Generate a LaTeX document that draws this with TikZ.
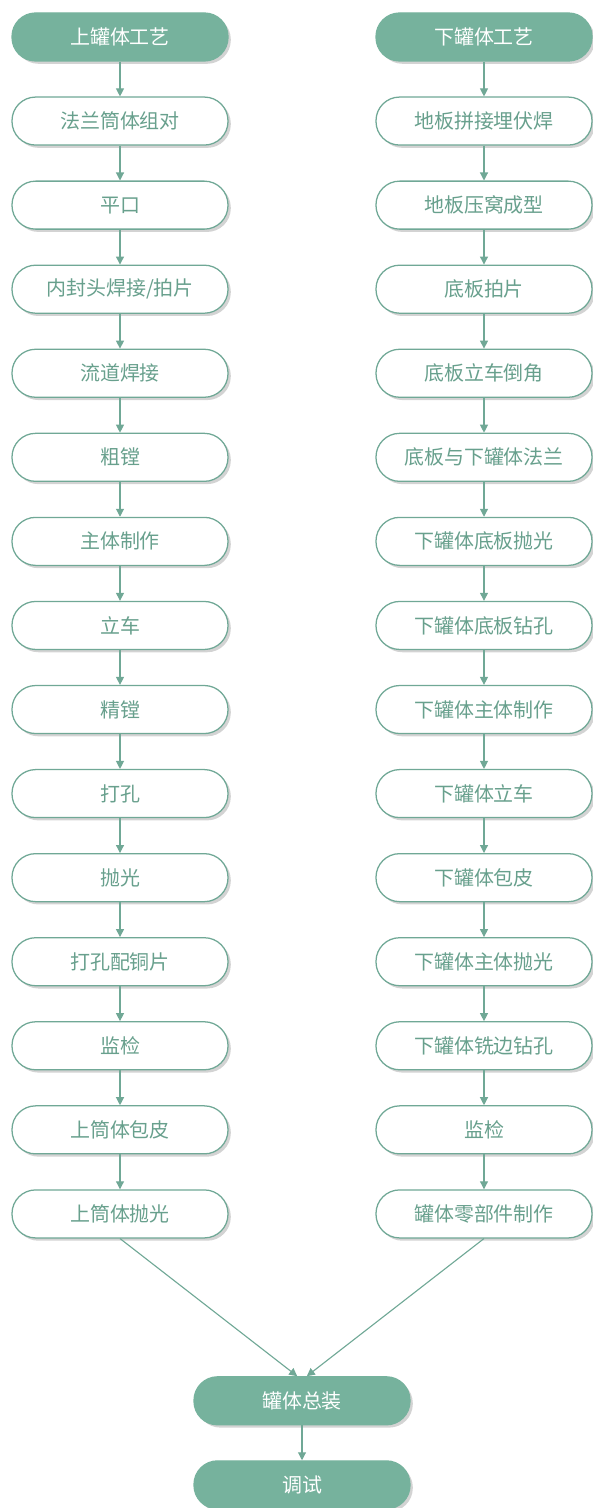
\documentclass[tikz,border=0pt]{standalone}
\usepackage{fontspec}
\setmainfont{Noto Sans CJK SC}
\usetikzlibrary{shapes,arrows.meta,positioning,calc,shadows}
\definecolor{tealfill}{RGB}{118,178,157}
\definecolor{tealtext}{RGB}{104,160,141}
\definecolor{tealline}{RGB}{112,168,150}
\tikzset{
  procbox/.style={rectangle,rounded corners=0.59cm,minimum width=5.4cm,minimum height=1.2cm,
    draw=tealline,line width=0.9pt,fill=white,text=tealtext,
    font=\fontsize{14.2}{16}\selectfont,
    drop shadow={shadow xshift=0.07cm,shadow yshift=-0.07cm,opacity=0.35}},
  headbox/.style={procbox,draw=tealfill,fill=tealfill,text=white},
  flow/.style={draw=tealline,line width=0.8pt,-{Triangle[width=0.2cm,length=0.2cm]}}
}
\begin{document}
\begin{tikzpicture}[node distance=0.87cm]
      \useasboundingbox (0,0) rectangle (14.8,-37.7);
      % upper tank column
      \node[headbox] (uhead) at (3.0,-0.925) {上罐体工艺};
      \node[procbox,below=of uhead] (u1) {法兰筒体组对};
      \node[procbox,below=of u1] (u2) {平口};
      \node[procbox,below=of u2] (u3) {内封头焊接/拍片};
      \node[procbox,below=of u3] (u4) {流道焊接};
      \node[procbox,below=of u4] (u5) {粗镗};
      \node[procbox,below=of u5] (u6) {主体制作};
      \node[procbox,below=of u6] (u7) {立车};
      \node[procbox,below=of u7] (u8) {精镗};
      \node[procbox,below=of u8] (u9) {打孔};
      \node[procbox,below=of u9] (u10) {抛光};
      \node[procbox,below=of u10] (u11) {打孔配铜片};
      \node[procbox,below=of u11] (u12) {监检};
      \node[procbox,below=of u12] (u13) {上筒体包皮};
      \node[procbox,below=of u13] (u14) {上筒体抛光};
      % lower tank column
      \node[headbox] (lhead) at (12.1,-0.925) {下罐体工艺};
      \node[procbox,below=of lhead] (l1) {地板拼接埋伏焊};
      \node[procbox,below=of l1] (l2) {地板压窝成型};
      \node[procbox,below=of l2] (l3) {底板拍片};
      \node[procbox,below=of l3] (l4) {底板立车倒角};
      \node[procbox,below=of l4] (l5) {底板与下罐体法兰};
      \node[procbox,below=of l5] (l6) {下罐体底板抛光};
      \node[procbox,below=of l6] (l7) {下罐体底板钻孔};
      \node[procbox,below=of l7] (l8) {下罐体主体制作};
      \node[procbox,below=of l8] (l9) {下罐体立车};
      \node[procbox,below=of l9] (l10) {下罐体包皮};
      \node[procbox,below=of l10] (l11) {下罐体主体抛光};
      \node[procbox,below=of l11] (l12) {下罐体铣边钻孔};
      \node[procbox,below=of l12] (l13) {监检};
      \node[procbox,below=of l13] (l14) {罐体零部件制作};
      % assembly
      \node[headbox] (asm) at (7.55,-35.02) {罐体总装};
      \node[headbox,below=of asm] (test) {调试};
      % connectors
      \draw[flow] (uhead) -- (u1);
      \draw[flow] (u1) -- (u2);
      \draw[flow] (u2) -- (u3);
      \draw[flow] (u3) -- (u4);
      \draw[flow] (u4) -- (u5);
      \draw[flow] (u5) -- (u6);
      \draw[flow] (u6) -- (u7);
      \draw[flow] (u7) -- (u8);
      \draw[flow] (u8) -- (u9);
      \draw[flow] (u9) -- (u10);
      \draw[flow] (u10) -- (u11);
      \draw[flow] (u11) -- (u12);
      \draw[flow] (u12) -- (u13);
      \draw[flow] (u13) -- (u14);
      \draw[flow] (lhead) -- (l1);
      \draw[flow] (l1) -- (l2);
      \draw[flow] (l2) -- (l3);
      \draw[flow] (l3) -- (l4);
      \draw[flow] (l4) -- (l5);
      \draw[flow] (l5) -- (l6);
      \draw[flow] (l6) -- (l7);
      \draw[flow] (l7) -- (l8);
      \draw[flow] (l8) -- (l9);
      \draw[flow] (l9) -- (l10);
      \draw[flow] (l10) -- (l11);
      \draw[flow] (l11) -- (l12);
      \draw[flow] (l12) -- (l13);
      \draw[flow] (l13) -- (l14);
      \draw[flow] (u14.south) -- ([xshift=-0.12cm]asm.north);
      \draw[flow] (l14.south) -- ([xshift=0.12cm]asm.north);
      \draw[flow] (asm) -- (test);
\end{tikzpicture}
\end{document}
